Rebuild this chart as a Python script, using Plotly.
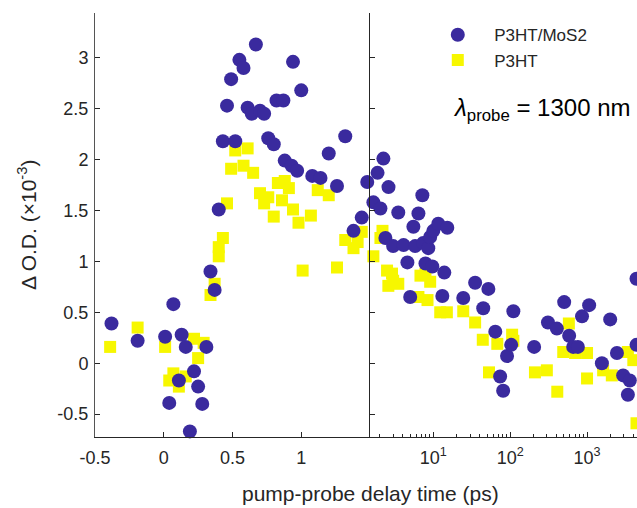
import plotly.graph_objects as go
import math

# ---------------- data ----------------
# P3HT/MoS2 (circles) - linear part (delay in ps)
mos2_t_lin = [-0.38, -0.19, 0.01, 0.04, 0.07, 0.11, 0.13, 0.16, 0.19, 0.22, 0.25, 0.28, 0.31,
              0.34, 0.37, 0.40, 0.43, 0.46, 0.49, 0.52, 0.55, 0.58, 0.61, 0.64, 0.67, 0.70,
              0.73, 0.76, 0.80, 0.82, 0.87, 0.88, 0.93, 0.94, 0.97, 1.00, 1.08, 1.14, 1.20,
              1.26, 1.32, 1.38, 1.44, 1.48]
mos2_y_lin = [0.39, 0.22, 0.26, -0.39, 0.58, -0.17, 0.28, 0.16, -0.67, -0.08, -0.23, -0.40, 0.16,
              0.90, 0.72, 1.51, 2.18, 2.53, 2.79, 2.18, 2.98, 2.90, 2.51, 2.45, 3.13, 2.48,
              2.45, 2.21, 2.15, 2.58, 2.58, 1.99, 1.94, 2.96, 1.89, 2.68, 1.84, 1.82, 2.06,
              1.74, 2.23, 1.30, 1.43, 1.78]
# P3HT/MoS2 (circles) - log part
mos2_t_log = [1.66, 1.88, 2.05, 2.24, 2.38, 2.61, 3.0, 3.5, 4.1, 4.6, 5.0, 5.5, 5.8, 6.4, 7.2,
              7.4, 7.9, 8.6, 9.1, 9.7, 10, 11.6, 13.1, 13.9, 15.2, 24.5, 35, 44.6, 52, 64, 74,
              81, 91, 103, 110, 205, 310, 405, 504, 585, 660, 760, 860, 1065, 1560, 2000,
              2450, 2950, 3400, 3600, 4400, 4400]
mos2_y_log = [1.58, 1.87, 1.52, 2.01, 1.23, 1.73, 1.15, 1.48, 1.16, 0.99, 0.65, 1.34, 1.15, 1.47, 1.65,
              1.18, 0.98, 1.13, 1.24, 0.95, 1.30, 1.37, 0.66, 0.89, 1.33, 0.64, 0.79, 0.54, 0.73, 0.31, -0.13,
              -0.27, 0.07, 0.18, 0.51, 0.16, 0.40, 0.34, 0.60, 0.27, 0.16, 0.16, 0.46, 0.57, 0.0, 0.43,
              0.10, -0.12, -0.31, -0.17, 0.83, 0.18]

# P3HT (squares) - linear part
p3ht_t_lin = [-0.39, -0.19, 0.01, 0.04, 0.07, 0.11, 0.16, 0.22, 0.25, 0.29, 0.34, 0.37, 0.40,
              0.40, 0.43, 0.46, 0.49, 0.52, 0.58, 0.61, 0.65, 0.70, 0.73, 0.76, 0.80, 0.83,
              0.86, 0.88, 0.91, 0.94, 0.98, 1.01, 1.07, 1.12, 1.20, 1.26, 1.32, 1.38, 1.41, 1.44]
p3ht_y_lin = [0.16, 0.35, 0.16, -0.17, -0.10, -0.23, -0.13, 0.24, 0.05, 0.20, 0.67, 0.78, 1.05,
              1.14, 1.23, 1.57, 1.91, 2.09, 1.94, 2.11, 1.87, 1.67, 1.57, 1.63, 1.44, 1.77,
              1.60, 1.79, 1.72, 1.51, 1.38, 0.91, 1.45, 1.70, 1.65, 0.94, 1.21, 1.13, 1.19, 1.29]
# P3HT (squares) - log part
p3ht_t_log = [1.66, 2.05, 2.18, 2.5, 2.6, 2.9, 3.0, 3.5, 6.4, 6.8, 7.9, 8.4, 9.1, 12.3, 15, 24.5,
              35, 44, 53, 68, 106, 110, 210, 300, 410, 490, 580, 700, 1000, 1000, 1620, 2100,
              3400, 4000, 4400]
p3ht_y_log = [1.05, 1.23, 1.30, 0.91, 0.76, 0.88, 0.81, 0.78, 0.65, 0.86, 0.88, 0.62, 0.80, 0.50, 0.50, 0.51,
              0.40, 0.23, -0.09, 0.19, 0.28, 0.22, -0.09, -0.07, -0.28, 0.11, 0.39, 0.10, 0.10, -0.15, -0.07, -0.12,
              0.11, 0.03, -0.59]

y_ticks = [-0.5, 0, 0.5, 1, 1.5, 2, 2.5, 3]
y_ticktext = ["-0.5", "0", "0.5", "1", "1.5", "2", "2.5", "3"]
x_lin_ticks = [-0.5, 0, 0.5, 1]
x_lin_ticktext = ["-0.5", "0", "0.5", "1"]
x_log_ticks = [10, 100, 1000]
x_log_ticktext = ["10<sup>1</sup>", "10<sup>2</sup>", "10<sup>3</sup>"]

# ---------------- style ----------------
BLUE = "#3a2a9e"
YELLOW = "#f7f700"
AX = "#262626"
FONT = "Liberation Sans, Arial, sans-serif"
split = 275 / 542

fig = go.Figure()
fig.add_trace(go.Scatter(x=p3ht_t_lin, y=p3ht_y_lin, mode="markers", name="P3HT",
                         marker=dict(symbol="square", size=12, color=YELLOW, line=dict(width=0)),
                         xaxis="x", yaxis="y", cliponaxis=False))
fig.add_trace(go.Scatter(x=p3ht_t_log, y=p3ht_y_log, mode="markers", name="P3HT", showlegend=False,
                         marker=dict(symbol="square", size=12, color=YELLOW, line=dict(width=0)),
                         xaxis="x2", yaxis="y2", cliponaxis=False))
fig.add_trace(go.Scatter(x=mos2_t_lin, y=mos2_y_lin, mode="markers", name="P3HT/MoS2",
                         marker=dict(symbol="circle", size=14, color=BLUE, line=dict(width=0)),
                         xaxis="x", yaxis="y", cliponaxis=False))
fig.add_trace(go.Scatter(x=mos2_t_log, y=mos2_y_log, mode="markers", name="P3HT/MoS2", showlegend=False,
                         marker=dict(symbol="circle", size=14, color=BLUE, line=dict(width=0)),
                         xaxis="x2", yaxis="y2", cliponaxis=False))

tickfont = dict(family=FONT, size=18, color=AX)
yr = [-0.725, 3.44]
fig.update_layout(
    width=637, height=508,
    margin=dict(l=95, r=0, t=13, b=71),
    paper_bgcolor="white", plot_bgcolor="white",
    font=dict(family=FONT, color=AX),
    xaxis=dict(domain=[0, split], range=[-0.5, 1.5], anchor="y",
               tickmode="array", tickvals=x_lin_ticks, ticktext=x_lin_ticktext,
               ticks="inside", ticklen=5, tickcolor=AX, showline=True, linecolor=AX, linewidth=1,
               showgrid=False, zeroline=False, tickfont=tickfont, ticklabelstandoff=4),
    xaxis2=dict(domain=[split, 1], type="log", range=[math.log10(1.5), 3.65], anchor="y2",
                tickmode="array", tickvals=x_log_ticks, ticktext=x_log_ticktext,
                ticks="inside", ticklen=5, tickcolor=AX, showline=True, linecolor=AX, linewidth=1,
                showgrid=False, zeroline=False, tickfont=tickfont, ticklabelstandoff=4,
                minor=dict(ticks="inside", ticklen=3, tickcolor=AX, dtick="D1", showgrid=False)),
    yaxis=dict(domain=[0, 1], range=yr, anchor="x",
               tickmode="array", tickvals=y_ticks, ticktext=y_ticktext,
               ticks="inside", ticklen=5, tickcolor=AX, showline=True, linecolor="#555555", linewidth=1,
               showgrid=False, zeroline=False, tickfont=tickfont, ticklabelstandoff=2),
    yaxis2=dict(domain=[0, 1], range=yr, anchor="x2",
                tickmode="array", tickvals=y_ticks, showticklabels=False,
                ticks="inside", ticklen=5, tickcolor=AX, showline=True, linecolor=AX, linewidth=1,
                showgrid=False, zeroline=False),
    legend=dict(x=0.602, y=0.99, xanchor="left", yanchor="top", traceorder="reversed",
                itemwidth=63, bgcolor="rgba(0,0,0,0)", font=dict(family=FONT, size=17, color=AX)),
    showlegend=True,
)

fig.add_annotation(text="<i>λ</i><sub>probe</sub> = 1300 nm", xref="paper", yref="paper",
                   x=(451 - 95) / 542, y=1 - (110 - 13) / 424, xanchor="left", yanchor="middle",
                   showarrow=False, font=dict(family=FONT, size=24, color="black"))
fig.add_annotation(text="Δ O.D. (×10<sup>-3</sup>)", xref="paper", yref="paper",
                   x=-(95 - 27) / 542, y=0.5, xanchor="center", yanchor="middle", textangle=-90,
                   showarrow=False, font=dict(family=FONT, size=21, color=AX))
fig.add_annotation(text="pump-probe delay time (ps)", xref="paper", yref="paper",
                   x=(370 - 95) / 542, y=-(493 - 437) / 424, xanchor="center", yanchor="middle",
                   showarrow=False, font=dict(family=FONT, size=21, color=AX))

fig.write_html("out.html")
